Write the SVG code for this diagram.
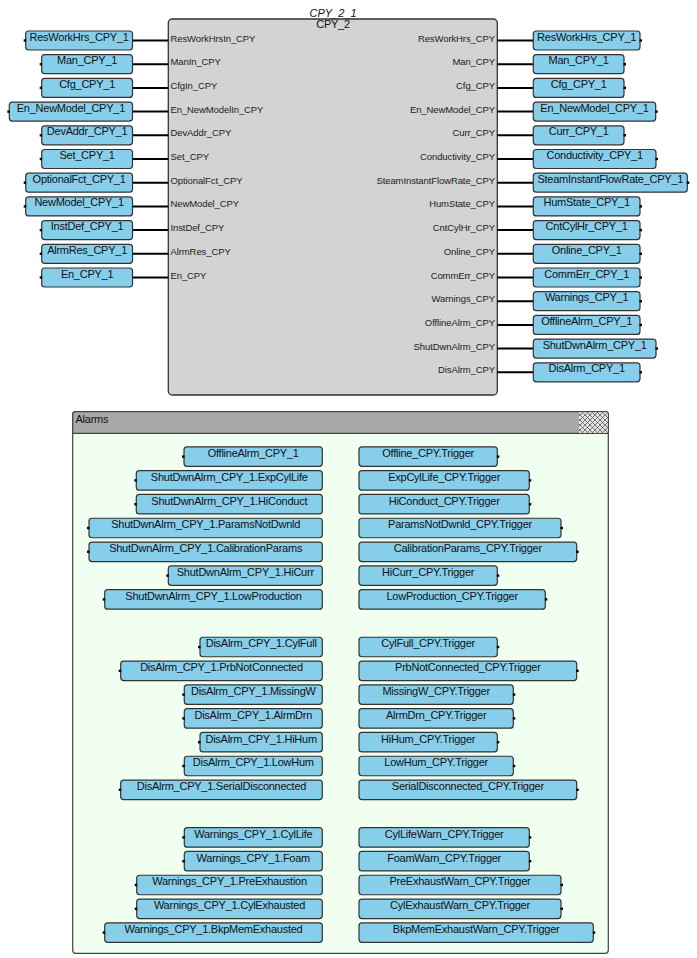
<svg xmlns="http://www.w3.org/2000/svg" width="697" height="958" viewBox="0 0 697 958">
<style>
.box{fill:#87ceeb;stroke:#333;stroke-width:1.2}
.t{font-family:"Liberation Sans",Arial,sans-serif;font-size:11px;letter-spacing:-0.25px;fill:#111;text-anchor:middle}
.pl{font-family:"Liberation Sans",Arial,sans-serif;font-size:9.5px;letter-spacing:-0.1px;fill:#222}
.pr{font-family:"Liberation Sans",Arial,sans-serif;font-size:9.5px;letter-spacing:-0.1px;fill:#222;text-anchor:end}
.w{stroke:#000;stroke-width:2;fill:none}
.k{fill:#000}
</style>
<defs>
<pattern id="hatch" width="5" height="5" patternUnits="userSpaceOnUse">
<rect width="5" height="5" fill="#e4e4e4"/>
<path d="M0,0L5,5M5,0L0,5" stroke="#444" stroke-width="0.7"/>
</pattern>
</defs>
<rect width="697" height="958" fill="#fff"/>

<g id="CPY_2_1">
<rect x="168.3" y="19" width="329" height="376" rx="4" fill="#d3d3d3" stroke="#333" stroke-width="1.3"/>
<text x="333" y="16.5" font-family="Liberation Sans,Arial,sans-serif" font-size="11" font-style="italic" text-anchor="middle" fill="#111">CPY_2_1</text>
<text x="333" y="28" class="t">CPY_2</text>
<text class="pl" x="170.5" y="41.5">ResWorkHrsIn_CPY</text>
<text class="pl" x="170.5" y="65.2">ManIn_CPY</text>
<text class="pl" x="170.5" y="88.9">CfgIn_CPY</text>
<text class="pl" x="170.5" y="112.6">En_NewModelIn_CPY</text>
<text class="pl" x="170.5" y="136.3">DevAddr_CPY</text>
<text class="pl" x="170.5" y="160">Set_CPY</text>
<text class="pl" x="170.5" y="183.7">OptionalFct_CPY</text>
<text class="pl" x="170.5" y="207.4">NewModel_CPY</text>
<text class="pl" x="170.5" y="231.1">InstDef_CPY</text>
<text class="pl" x="170.5" y="254.8">AlrmRes_CPY</text>
<text class="pl" x="170.5" y="278.5">En_CPY</text>
<text class="pr" x="495" y="41.5">ResWorkHrs_CPY</text>
<text class="pr" x="495" y="65.2">Man_CPY</text>
<text class="pr" x="495" y="88.9">Cfg_CPY</text>
<text class="pr" x="495" y="112.6">En_NewModel_CPY</text>
<text class="pr" x="495" y="136.3">Curr_CPY</text>
<text class="pr" x="495" y="160">Conductivity_CPY</text>
<text class="pr" x="495" y="183.7">SteamInstantFlowRate_CPY</text>
<text class="pr" x="495" y="207.4">HumState_CPY</text>
<text class="pr" x="495" y="231.1">CntCylHr_CPY</text>
<text class="pr" x="495" y="254.8">Online_CPY</text>
<text class="pr" x="495" y="278.5">CommErr_CPY</text>
<text class="pr" x="495" y="302.2">Warnings_CPY</text>
<text class="pr" x="495" y="325.9">OfflineAlrm_CPY</text>
<text class="pr" x="495" y="349.6">ShutDwnAlrm_CPY</text>
<text class="pr" x="495" y="373.3">DisAlrm_CPY</text>
</g>

<g id="connectors">
<path class="w" d="M132.5,40.5H168.3M132.5,64.2H168.3M132.5,87.9H168.3M132.5,111.6H168.3M132.5,135.3H168.3M132.5,159H168.3M132.5,182.7H168.3M132.5,206.4H168.3M132.5,230.1H168.3M132.5,253.8H168.3M132.5,277.5H168.3"/>
<path class="w" d="M497.3,40.5H533.3M497.3,64.2H533.3M497.3,87.9H533.3M497.3,111.6H533.3M497.3,135.3H533.3M497.3,159H533.3M497.3,182.7H533.3M497.3,206.4H533.3M497.3,230.1H533.3M497.3,253.8H533.3M497.3,277.5H533.3M497.3,301.2H533.3M497.3,324.9H533.3M497.3,348.6H533.3M497.3,372.3H533.3"/>
<path class="w" d="M322.3,456.6H359M322.3,480.4H359M322.3,504.2H359M322.3,528H359M322.3,551.8H359M322.3,575.6H359M322.3,599.4H359M322.3,647H359M322.3,670.8H359M322.3,694.6H359M322.3,718.4H359M322.3,742.2H359M322.3,766H359M322.3,789.8H359M322.3,837.4H359M322.3,861.2H359M322.3,885H359M322.3,908.8H359M322.3,932.6H359"/>
</g>

<g id="in_ResWorkHrs"><rect class="box" x="25.7" y="31" width="106.8" height="19" rx="3"/><rect class="k" x="23.7" y="39.3" width="2.5" height="2.4"/><text class="t" x="79.1" y="40.5">ResWorkHrs_CPY_1</text></g>
<g id="in_Man"><rect class="box" x="41.7" y="54.7" width="90.8" height="19" rx="3"/><rect class="k" x="39.7" y="63" width="2.5" height="2.4"/><text class="t" x="87.1" y="64.2">Man_CPY_1</text></g>
<g id="in_Cfg"><rect class="box" x="41.7" y="78.4" width="90.8" height="19" rx="3"/><rect class="k" x="39.7" y="86.7" width="2.5" height="2.4"/><text class="t" x="87.1" y="87.9">Cfg_CPY_1</text></g>
<g id="in_En_NewModel"><rect class="box" x="9.3" y="102.1" width="123.2" height="19" rx="3"/><rect class="k" x="7.3" y="110.4" width="2.5" height="2.4"/><text class="t" x="70.9" y="111.6">En_NewModel_CPY_1</text></g>
<g id="in_DevAddr"><rect class="box" x="41.7" y="125.8" width="90.8" height="19" rx="3"/><rect class="k" x="39.7" y="134.1" width="2.5" height="2.4"/><text class="t" x="87.1" y="135.3">DevAddr_CPY_1</text></g>
<g id="in_Set"><rect class="box" x="41.7" y="149.5" width="90.8" height="19" rx="3"/><rect class="k" x="39.7" y="157.8" width="2.5" height="2.4"/><text class="t" x="87.1" y="159">Set_CPY_1</text></g>
<g id="in_OptionalFct"><rect class="box" x="25.7" y="173.2" width="106.8" height="19" rx="3"/><rect class="k" x="23.7" y="181.5" width="2.5" height="2.4"/><text class="t" x="79.1" y="182.7">OptionalFct_CPY_1</text></g>
<g id="in_NewModel"><rect class="box" x="25.7" y="196.9" width="106.8" height="19" rx="3"/><rect class="k" x="23.7" y="205.2" width="2.5" height="2.4"/><text class="t" x="79.1" y="206.4">NewModel_CPY_1</text></g>
<g id="in_InstDef"><rect class="box" x="41.7" y="220.6" width="90.8" height="19" rx="3"/><rect class="k" x="39.7" y="228.9" width="2.5" height="2.4"/><text class="t" x="87.1" y="230.1">InstDef_CPY_1</text></g>
<g id="in_AlrmRes"><rect class="box" x="41.7" y="244.3" width="90.8" height="19" rx="3"/><rect class="k" x="39.7" y="252.6" width="2.5" height="2.4"/><text class="t" x="87.1" y="253.8">AlrmRes_CPY_1</text></g>
<g id="in_En"><rect class="box" x="41.7" y="268" width="90.8" height="19" rx="3"/><rect class="k" x="39.7" y="276.3" width="2.5" height="2.4"/><text class="t" x="87.1" y="277.5">En_CPY_1</text></g>

<g id="out_ResWorkHrs"><rect class="box" x="533.3" y="31" width="106.7" height="19" rx="3"/><rect class="k" x="639.5" y="39.3" width="2.5" height="2.4"/><text class="t" x="586.65" y="40.5">ResWorkHrs_CPY_1</text></g>
<g id="out_Man"><rect class="box" x="533.3" y="54.7" width="90.7" height="19" rx="3"/><rect class="k" x="623.5" y="63" width="2.5" height="2.4"/><text class="t" x="578.65" y="64.2">Man_CPY_1</text></g>
<g id="out_Cfg"><rect class="box" x="533.3" y="78.4" width="90.7" height="19" rx="3"/><rect class="k" x="623.5" y="86.7" width="2.5" height="2.4"/><text class="t" x="578.65" y="87.9">Cfg_CPY_1</text></g>
<g id="out_En_NewModel"><rect class="box" x="533.3" y="102.1" width="122.4" height="19" rx="3"/><rect class="k" x="655.2" y="110.4" width="2.5" height="2.4"/><text class="t" x="594.5" y="111.6">En_NewModel_CPY_1</text></g>
<g id="out_Curr"><rect class="box" x="533.3" y="125.8" width="90.7" height="19" rx="3"/><rect class="k" x="623.5" y="134.1" width="2.5" height="2.4"/><text class="t" x="578.65" y="135.3">Curr_CPY_1</text></g>
<g id="out_Conductivity"><rect class="box" x="533.3" y="149.5" width="122.7" height="19" rx="3"/><rect class="k" x="655.5" y="157.8" width="2.5" height="2.4"/><text class="t" x="594.65" y="159">Conductivity_CPY_1</text></g>
<g id="out_SteamInstantFlowRate"><rect class="box" x="533.3" y="173.2" width="154" height="19" rx="3"/><rect class="k" x="686.8" y="181.5" width="2.5" height="2.4"/><text class="t" x="610.3" y="182.7">SteamInstantFlowRate_CPY_1</text></g>
<g id="out_HumState"><rect class="box" x="533.3" y="196.9" width="106.7" height="19" rx="3"/><rect class="k" x="639.5" y="205.2" width="2.5" height="2.4"/><text class="t" x="586.65" y="206.4">HumState_CPY_1</text></g>
<g id="out_CntCylHr"><rect class="box" x="533.3" y="220.6" width="106.7" height="19" rx="3"/><rect class="k" x="639.5" y="228.9" width="2.5" height="2.4"/><text class="t" x="586.65" y="230.1">CntCylHr_CPY_1</text></g>
<g id="out_Online"><rect class="box" x="533.3" y="244.3" width="106.7" height="19" rx="3"/><rect class="k" x="639.5" y="252.6" width="2.5" height="2.4"/><text class="t" x="586.65" y="253.8">Online_CPY_1</text></g>
<g id="out_CommErr"><rect class="box" x="533.3" y="268" width="106.7" height="19" rx="3"/><rect class="k" x="639.5" y="276.3" width="2.5" height="2.4"/><text class="t" x="586.65" y="277.5">CommErr_CPY_1</text></g>
<g id="out_Warnings"><rect class="box" x="533.3" y="291.7" width="106.7" height="19" rx="3"/><rect class="k" x="639.5" y="300" width="2.5" height="2.4"/><text class="t" x="586.65" y="301.2">Warnings_CPY_1</text></g>
<g id="out_OfflineAlrm"><rect class="box" x="533.3" y="315.4" width="106.7" height="19" rx="3"/><rect class="k" x="639.5" y="323.7" width="2.5" height="2.4"/><text class="t" x="586.65" y="324.9">OfflineAlrm_CPY_1</text></g>
<g id="out_ShutDwnAlrm"><rect class="box" x="533.3" y="339.1" width="122.7" height="19" rx="3"/><rect class="k" x="655.5" y="347.4" width="2.5" height="2.4"/><text class="t" x="594.65" y="348.6">ShutDwnAlrm_CPY_1</text></g>
<g id="out_DisAlrm"><rect class="box" x="533.3" y="362.8" width="106.7" height="19" rx="3"/><rect class="k" x="639.5" y="371.1" width="2.5" height="2.4"/><text class="t" x="586.65" y="372.3">DisAlrm_CPY_1</text></g>

<g id="Alarms">
<rect x="72.7" y="411.7" width="535.6" height="541.6" rx="3" fill="#f0fff0" stroke="#444" stroke-width="1.2"/>
<path d="M72.7,433.3V414.7a3,3 0 0 1 3,-3H605.3a3,3 0 0 1 3,3V433.3Z" fill="#a9a9a9" stroke="#444" stroke-width="1.2"/>
<rect x="579" y="412.3" width="28.7" height="20.5" fill="url(#hatch)"/>
<text x="75.5" y="422.5" font-family="Liberation Sans,Arial,sans-serif" font-size="11" letter-spacing="-0.25" fill="#111">Alarms</text>
</g>

<g id="a_OfflineAlrm"><rect class="box" x="184" y="446.85" width="138.3" height="19.5" rx="3"/><rect class="k" x="182" y="455.4" width="2.5" height="2.4"/><text class="t" x="253.15" y="457">OfflineAlrm_CPY_1</text></g>
<g id="a_Offline_Trigger"><rect class="box" x="359" y="446.85" width="138.3" height="19.5" rx="3"/><rect class="k" x="496.8" y="455.4" width="2.5" height="2.4"/><text class="t" x="428.15" y="457">Offline_CPY.Trigger</text></g>
<g id="a_ExpCylLife"><rect class="box" x="136.3" y="470.65" width="186" height="19.5" rx="3"/><rect class="k" x="134.3" y="479.2" width="2.5" height="2.4"/><text class="t" x="229.3" y="480.8">ShutDwnAlrm_CPY_1.ExpCylLife</text></g>
<g id="a_ExpCylLife_Trigger"><rect class="box" x="359" y="470.65" width="170.3" height="19.5" rx="3"/><rect class="k" x="528.8" y="479.2" width="2.5" height="2.4"/><text class="t" x="444.15" y="480.8">ExpCylLife_CPY.Trigger</text></g>
<g id="a_HiConduct"><rect class="box" x="136.3" y="494.45" width="186" height="19.5" rx="3"/><rect class="k" x="134.3" y="503" width="2.5" height="2.4"/><text class="t" x="229.3" y="504.6">ShutDwnAlrm_CPY_1.HiConduct</text></g>
<g id="a_HiConduct_Trigger"><rect class="box" x="359" y="494.45" width="170.3" height="19.5" rx="3"/><rect class="k" x="528.8" y="503" width="2.5" height="2.4"/><text class="t" x="444.15" y="504.6">HiConduct_CPY.Trigger</text></g>
<g id="a_ParamsNotDwnld"><rect class="box" x="89" y="518.25" width="233.3" height="19.5" rx="3"/><rect class="k" x="87" y="526.8" width="2.5" height="2.4"/><text class="t" x="205.65" y="528.4">ShutDwnAlrm_CPY_1.ParamsNotDwnld</text></g>
<g id="a_ParamsNotDwnld_Trigger"><rect class="box" x="359" y="518.25" width="202" height="19.5" rx="3"/><rect class="k" x="560.5" y="526.8" width="2.5" height="2.4"/><text class="t" x="460" y="528.4">ParamsNotDwnld_CPY.Trigger</text></g>
<g id="a_CalibrationParams"><rect class="box" x="89" y="542.05" width="233.3" height="19.5" rx="3"/><rect class="k" x="87" y="550.6" width="2.5" height="2.4"/><text class="t" x="205.65" y="552.2">ShutDwnAlrm_CPY_1.CalibrationParams</text></g>
<g id="a_CalibrationParams_Trigger"><rect class="box" x="359" y="542.05" width="217.7" height="19.5" rx="3"/><rect class="k" x="576.2" y="550.6" width="2.5" height="2.4"/><text class="t" x="467.85" y="552.2">CalibrationParams_CPY.Trigger</text></g>
<g id="a_HiCurr"><rect class="box" x="168.3" y="565.85" width="154" height="19.5" rx="3"/><rect class="k" x="166.3" y="574.4" width="2.5" height="2.4"/><text class="t" x="245.3" y="576">ShutDwnAlrm_CPY_1.HiCurr</text></g>
<g id="a_HiCurr_Trigger"><rect class="box" x="359" y="565.85" width="138.3" height="19.5" rx="3"/><rect class="k" x="496.8" y="574.4" width="2.5" height="2.4"/><text class="t" x="428.15" y="576">HiCurr_CPY.Trigger</text></g>
<g id="a_LowProduction"><rect class="box" x="104.7" y="589.65" width="217.6" height="19.5" rx="3"/><rect class="k" x="102.7" y="598.2" width="2.5" height="2.4"/><text class="t" x="213.5" y="599.8">ShutDwnAlrm_CPY_1.LowProduction</text></g>
<g id="a_LowProduction_Trigger"><rect class="box" x="359" y="589.65" width="186.3" height="19.5" rx="3"/><rect class="k" x="544.8" y="598.2" width="2.5" height="2.4"/><text class="t" x="452.15" y="599.8">LowProduction_CPY.Trigger</text></g>

<g id="a_CylFull"><rect class="box" x="200" y="637.25" width="122.3" height="19.5" rx="3"/><rect class="k" x="198" y="645.8" width="2.5" height="2.4"/><text class="t" x="261.15" y="647.4">DisAlrm_CPY_1.CylFull</text></g>
<g id="a_CylFull_Trigger"><rect class="box" x="359" y="637.25" width="138.3" height="19.5" rx="3"/><rect class="k" x="496.8" y="645.8" width="2.5" height="2.4"/><text class="t" x="428.15" y="647.4">CylFull_CPY.Trigger</text></g>
<g id="a_PrbNotConnected"><rect class="box" x="120.7" y="661.05" width="201.6" height="19.5" rx="3"/><rect class="k" x="118.7" y="669.6" width="2.5" height="2.4"/><text class="t" x="221.5" y="671.2">DisAlrm_CPY_1.PrbNotConnected</text></g>
<g id="a_PrbNotConnected_Trigger"><rect class="box" x="359" y="661.05" width="217.7" height="19.5" rx="3"/><rect class="k" x="576.2" y="669.6" width="2.5" height="2.4"/><text class="t" x="467.85" y="671.2">PrbNotConnected_CPY.Trigger</text></g>
<g id="a_MissingW"><rect class="box" x="184.3" y="684.85" width="138" height="19.5" rx="3"/><rect class="k" x="182.3" y="693.4" width="2.5" height="2.4"/><text class="t" x="253.3" y="695">DisAlrm_CPY_1.MissingW</text></g>
<g id="a_MissingW_Trigger"><rect class="box" x="359" y="684.85" width="154.3" height="19.5" rx="3"/><rect class="k" x="512.8" y="693.4" width="2.5" height="2.4"/><text class="t" x="436.15" y="695">MissingW_CPY.Trigger</text></g>
<g id="a_AlrmDrn"><rect class="box" x="184.3" y="708.65" width="138" height="19.5" rx="3"/><rect class="k" x="182.3" y="717.2" width="2.5" height="2.4"/><text class="t" x="253.3" y="718.8">DisAlrm_CPY_1.AlrmDrn</text></g>
<g id="a_AlrmDrn_Trigger"><rect class="box" x="359" y="708.65" width="154.3" height="19.5" rx="3"/><rect class="k" x="512.8" y="717.2" width="2.5" height="2.4"/><text class="t" x="436.15" y="718.8">AlrmDrn_CPY.Trigger</text></g>
<g id="a_HiHum"><rect class="box" x="200" y="732.45" width="122.3" height="19.5" rx="3"/><rect class="k" x="198" y="741" width="2.5" height="2.4"/><text class="t" x="261.15" y="742.6">DisAlrm_CPY_1.HiHum</text></g>
<g id="a_HiHum_Trigger"><rect class="box" x="359" y="732.45" width="138.3" height="19.5" rx="3"/><rect class="k" x="496.8" y="741" width="2.5" height="2.4"/><text class="t" x="428.15" y="742.6">HiHum_CPY.Trigger</text></g>
<g id="a_LowHum"><rect class="box" x="184.3" y="756.25" width="138" height="19.5" rx="3"/><rect class="k" x="182.3" y="764.8" width="2.5" height="2.4"/><text class="t" x="253.3" y="766.4">DisAlrm_CPY_1.LowHum</text></g>
<g id="a_LowHum_Trigger"><rect class="box" x="359" y="756.25" width="154.3" height="19.5" rx="3"/><rect class="k" x="512.8" y="764.8" width="2.5" height="2.4"/><text class="t" x="436.15" y="766.4">LowHum_CPY.Trigger</text></g>
<g id="a_SerialDisconnected"><rect class="box" x="120.7" y="780.05" width="201.6" height="19.5" rx="3"/><rect class="k" x="118.7" y="788.6" width="2.5" height="2.4"/><text class="t" x="221.5" y="790.2">DisAlrm_CPY_1.SerialDisconnected</text></g>
<g id="a_SerialDisconnected_Trigger"><rect class="box" x="359" y="780.05" width="217.7" height="19.5" rx="3"/><rect class="k" x="576.2" y="788.6" width="2.5" height="2.4"/><text class="t" x="467.85" y="790.2">SerialDisconnected_CPY.Trigger</text></g>

<g id="a_CylLife"><rect class="box" x="184.3" y="827.65" width="138" height="19.5" rx="3"/><rect class="k" x="182.3" y="836.2" width="2.5" height="2.4"/><text class="t" x="253.3" y="837.8">Warnings_CPY_1.CylLife</text></g>
<g id="a_CylLifeWarn_Trigger"><rect class="box" x="359" y="827.65" width="170.3" height="19.5" rx="3"/><rect class="k" x="528.8" y="836.2" width="2.5" height="2.4"/><text class="t" x="444.15" y="837.8">CylLifeWarn_CPY.Trigger</text></g>
<g id="a_Foam"><rect class="box" x="184.3" y="851.45" width="138" height="19.5" rx="3"/><rect class="k" x="182.3" y="860" width="2.5" height="2.4"/><text class="t" x="253.3" y="861.6">Warnings_CPY_1.Foam</text></g>
<g id="a_FoamWarn_Trigger"><rect class="box" x="359" y="851.45" width="170.3" height="19.5" rx="3"/><rect class="k" x="528.8" y="860" width="2.5" height="2.4"/><text class="t" x="444.15" y="861.6">FoamWarn_CPY.Trigger</text></g>
<g id="a_PreExhaustion"><rect class="box" x="136.7" y="875.25" width="185.6" height="19.5" rx="3"/><rect class="k" x="134.7" y="883.8" width="2.5" height="2.4"/><text class="t" x="229.5" y="885.4">Warnings_CPY_1.PreExhaustion</text></g>
<g id="a_PreExhaustWarn_Trigger"><rect class="box" x="359" y="875.25" width="202" height="19.5" rx="3"/><rect class="k" x="560.5" y="883.8" width="2.5" height="2.4"/><text class="t" x="460" y="885.4">PreExhaustWarn_CPY.Trigger</text></g>
<g id="a_CylExhausted"><rect class="box" x="136.7" y="899.05" width="185.6" height="19.5" rx="3"/><rect class="k" x="134.7" y="907.6" width="2.5" height="2.4"/><text class="t" x="229.5" y="909.2">Warnings_CPY_1.CylExhausted</text></g>
<g id="a_CylExhaustWarn_Trigger"><rect class="box" x="359" y="899.05" width="202" height="19.5" rx="3"/><rect class="k" x="560.5" y="907.6" width="2.5" height="2.4"/><text class="t" x="460" y="909.2">CylExhaustWarn_CPY.Trigger</text></g>
<g id="a_BkpMemExhausted"><rect class="box" x="104.7" y="922.85" width="217.6" height="19.5" rx="3"/><rect class="k" x="102.7" y="931.4" width="2.5" height="2.4"/><text class="t" x="213.5" y="933">Warnings_CPY_1.BkpMemExhausted</text></g>
<g id="a_BkpMemExhaustWarn_Trigger"><rect class="box" x="359" y="922.85" width="234.3" height="19.5" rx="3"/><rect class="k" x="592.8" y="931.4" width="2.5" height="2.4"/><text class="t" x="476.15" y="933">BkpMemExhaustWarn_CPY.Trigger</text></g>
</svg>
